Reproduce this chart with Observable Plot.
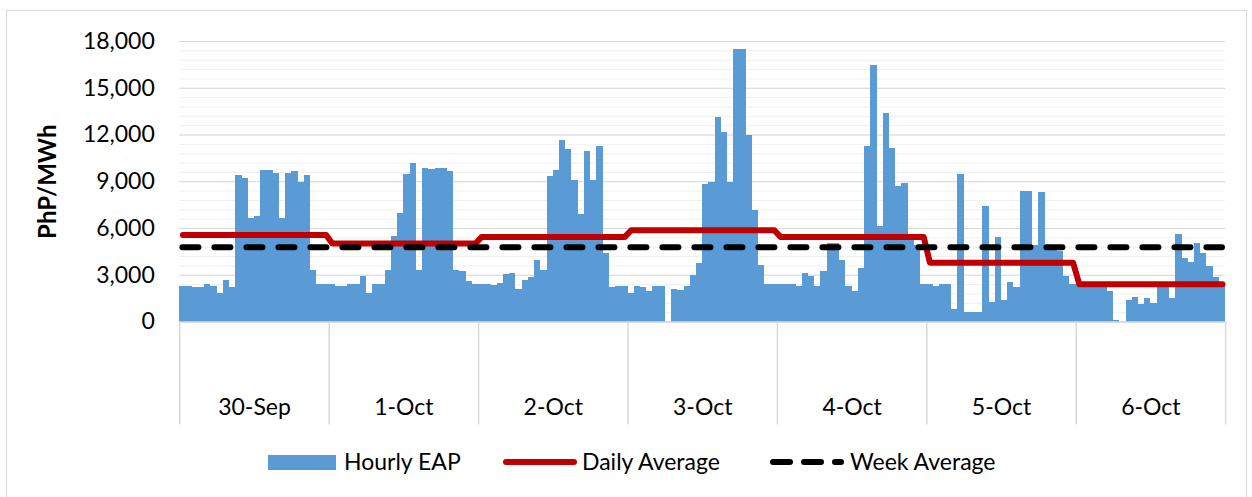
<!DOCTYPE html>
<html><head><meta charset="utf-8">
<script src="https://cdn.jsdelivr.net/npm/d3@7"></script>
<script src="https://cdn.jsdelivr.net/npm/@observablehq/plot@0.6"></script>
<style>
body{margin:0;background:#fff;font-family:Lato,"Open Sans",sans-serif;}
#wrap{position:relative;width:1252px;height:497px;overflow:hidden;background:#fff;}
#chart svg{display:block;}
#legend{display:block;}
#border{position:absolute;left:6px;top:10px;width:1239px;height:500px;border:1px solid #d9d9d9;pointer-events:none;}
</style></head><body>
<div id="wrap"><div id="chart"></div><svg id="legend" width="1252" height="57"></svg><div id="border"></div></div>
<script>
const days = ["30-Sep","1-Oct","2-Oct","3-Oct","4-Oct","5-Oct","6-Oct"];
const seriesNames = ["Hourly EAP","Daily Average","Week Average"];
const yTicks = [0,3000,6000,9000,12000,15000,18000];
const dayBounds = [0,24,48,72,96,120,144,168];

const eap30Sep = [2250,2250,2190,2190,2380,2250,1860,2640,2210,9390,9210,6640,6770,9750,9710,9540,6640,9540,9640,8960,9390,3280,2380,2380];
const eap1Oct  = [2380,2270,2270,2380,2380,2890,1860,2380,2380,3280,5460,6960,9490,10180,3280,9860,9790,9860,9860,9640,3280,3240,2570,2380];
const eap2Oct  = [2380,2380,2340,2490,3060,3110,2100,2640,2850,3960,3280,9320,9750,11640,11080,9060,6920,10930,9060,11250,4390,2210,2250,2250];
const eap3Oct  = [1860,2250,2190,1970,2250,2250,0,2080,2040,2250,2960,3750,8850,8960,13140,12150,8960,17460,17460,12000,7180,3640,2380,2380];
const eap4Oct  = [2380,2380,2380,2270,3130,2890,2270,3240,5060,5040,3950,2280,1980,3430,11250,16460,6150,13390,11160,8680,8890,5500,4900,2380];
const eap5Oct  = [2380,2290,2380,2380,790,9490,640,580,640,7410,1240,5420,1350,2530,2210,8360,8360,4900,8290,4800,4700,4500,2890,2420];
const eap6Oct  = [2400,2400,2400,2400,2400,1930,110,0,1390,1560,1140,1520,1180,2300,2300,1520,5610,4070,3810,5040,4390,3540,2850,2310];

const dailyAverage = [5590,5040,5460,5890,5460,3810,2420];
const weekAverage = 4800;

const hourly = [eap30Sep,eap1Oct,eap2Oct,eap3Oct,eap4Oct,eap5Oct,eap6Oct].flat();
const data = hourly.map((v,i)=>({i, v, day: Math.floor(i/24)}));

const blue = "#5B9BD5", red = "#C00000";

const chart = Plot.plot({
  width: 1252, height: 440,
  marginLeft: 179.3, marginRight: 26.9, marginTop: 41, marginBottom: 118.5,
  x: {type: "linear", domain: [0,168], label: null},
  y: {domain: [0,18000], label: null},
  style: {fontFamily: "Lato, 'Open Sans', sans-serif", fontSize: "23px", color: "#000", background: "#fff"},
  marks: [
    Plot.gridY(d3.range(0, 18001, 600), {stroke: "#f0f0f0", strokeOpacity: 1}),
    Plot.gridY(yTicks, {stroke: "#d9d9d9", strokeOpacity: 1}),
    Plot.rectY(data, {x1: "i", x2: d => d.i + 1, y: "v", fill: blue, shapeRendering: "crispEdges"}),
    Plot.ruleY([0], {stroke: "#d9d9d9", strokeWidth: 1.5}),
    Plot.axisX({ticks: dayBounds, tickSize: 103, tickFormat: () => "", stroke: "#d9d9d9", strokeWidth: 1.5, label: null}),
    Plot.text(days, {x: (d,i) => i*24 + 12, frameAnchor: "bottom", dy: 93, fontSize: 23, fill: "#000"}),
    Plot.axisY({ticks: yTicks, tickSize: 0, tickPadding: 25, tickFormat: d3.format(","), fontSize: 23, fill: "#000", label: null}),
    Plot.text(["PhP/MWh"], {frameAnchor: "left", textAnchor: "middle", rotate: -90, dx: -131, fontWeight: "bold", fontSize: 24, fill: "#000"}),
    Plot.line(data, {x: d => d.i + 0.5, y: d => dailyAverage[d.day], stroke: red, strokeWidth: 6, strokeLinecap: "round", strokeLinejoin: "round"}),
    Plot.ruleY([weekAverage], {x1: 0.5, x2: 167.5, stroke: "#000", strokeWidth: 6, strokeDasharray: "16,16", strokeLinecap: "round"})
  ]
});
document.getElementById("chart").appendChild(chart);

const lg = d3.select("#legend").style("font-family", "Lato, 'Open Sans', sans-serif").style("font-size", "23px");
lg.append("rect").attr("x", 268).attr("y", 15).attr("width", 68).attr("height", 15).attr("fill", blue);
lg.append("text").attr("x", 344).attr("y", 29.5).attr("fill", "#000").text(seriesNames[0]);
lg.append("line").attr("x1", 506).attr("x2", 574).attr("y1", 22).attr("y2", 22)
  .attr("stroke", red).attr("stroke-width", 6).attr("stroke-linecap", "round");
lg.append("text").attr("x", 582).attr("y", 29.5).attr("fill", "#000").text(seriesNames[1]);
lg.append("line").attr("x1", 773).attr("x2", 841).attr("y1", 22).attr("y2", 22)
  .attr("stroke", "#000").attr("stroke-width", 6).attr("stroke-linecap", "round").attr("stroke-dasharray", "17,14");
lg.append("text").attr("x", 850).attr("y", 29.5).attr("fill", "#000").text(seriesNames[2]);
</script>
</body></html>
